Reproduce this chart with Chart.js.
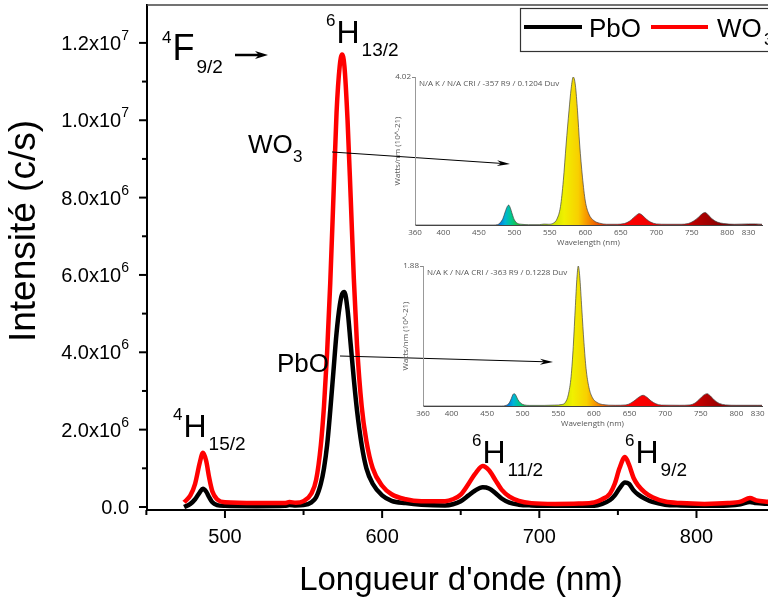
<!DOCTYPE html>
<html>
<head>
<meta charset="utf-8">
<script src="https://cdn.jsdelivr.net/npm/chart.js@4"></script>
<style>
  html, body { margin: 0; padding: 0; background: #fff; }
  #wrap { position: relative; width: 768px; height: 598px; overflow: hidden; }
  #wrap canvas { position: absolute; }
</style>
</head>
<body>
<div id="wrap">
  <canvas id="main" width="768" height="598" style="left:0;top:0"></canvas>
  <canvas id="inset1" width="413" height="195" style="left:355px;top:60px"></canvas>
  <canvas id="inset2" width="413" height="190" style="left:355px;top:250px"></canvas>
</div>
<script>
// emission spectra, intensity in units of 1e6 c/s
const wavelengths = [474, 478, 481, 484, 486, 488, 490, 492, 495, 500,
  520, 538, 541, 545, 550, 555, 558, 561, 563, 565,
  567, 569, 571, 573, 574.5, 576, 578, 580, 582, 584,
  587, 590, 594, 600, 606, 615, 625, 640, 645, 650,
  655, 659, 664, 668, 672, 676, 681, 687, 695, 710,
  725, 735, 740, 745, 748, 751, 754.5, 757, 760, 763,
  767, 772, 780, 790, 805, 820, 828, 834, 838, 846];
const wo3 = [0.12, 0.3, 0.6, 1.15, 1.4, 1.2, 0.75, 0.4, 0.2, 0.12,
  0.1, 0.1, 0.13, 0.11, 0.15, 0.35, 0.7, 1.6, 2.6, 4.0,
  5.8, 8.0, 10.2, 11.4, 11.7, 11.4, 10.0, 8.0, 5.9, 4.2,
  2.6, 1.7, 1.0, 0.55, 0.33, 0.2, 0.15, 0.15, 0.2, 0.32,
  0.6, 0.85, 1.06, 0.95, 0.7, 0.45, 0.27, 0.16, 0.1, 0.08,
  0.09, 0.12, 0.2, 0.35, 0.6, 1.0, 1.29, 1.1, 0.75, 0.55,
  0.38, 0.25, 0.14, 0.1, 0.08, 0.1, 0.14, 0.23, 0.17, 0.13];
const pbo = [0, 0.08, 0.2, 0.38, 0.47, 0.4, 0.25, 0.12, 0.05, 0.03,
  0.02, 0.03, 0.05, 0.04, 0.05, 0.12, 0.25, 0.6, 1.0, 1.6,
  2.5, 3.5, 4.5, 5.2, 5.5, 5.56, 5.1, 4.2, 3.3, 2.5,
  1.6, 1.0, 0.6, 0.3, 0.16, 0.1, 0.06, 0.04, 0.07, 0.15,
  0.3, 0.42, 0.51, 0.48, 0.36, 0.22, 0.11, 0.06, 0.04, 0.03,
  0.03, 0.03, 0.08, 0.18, 0.3, 0.48, 0.63, 0.6, 0.43, 0.32,
  0.22, 0.13, 0.06, 0.04, 0.03, 0.04, 0.07, 0.13, 0.1, 0.08];

// main axis ticks
const xTicks = [500, 600, 700, 800];
const xMinorTicks = [450, 550, 650, 750];
const yTicks = [0, 2e6, 4e6, 6e6, 8e6, 1e7, 1.2e7];
const yMinorTicks = [1e6, 3e6, 5e6, 7e6, 9e6, 1.1e7];
const yTickText = ['0.0', '2.0x10', '4.0x10', '6.0x10', '8.0x10', '1.0x10', '1.2x10'];
const yTickExp = ['', '6', '6', '6', '6', '7', '7'];

// inset spectra (light meter screenshots)
const wo3SpecWl = [360, 470, 476, 480, 484, 487, 490, 492, 494, 497, 500, 504, 510, 520, 535, 542, 548,
  555, 560, 565, 569, 573, 577, 580, 583, 586, 589, 592, 596, 600, 605, 612, 620, 630, 645,
  655, 662, 668, 673, 676, 680, 686, 692, 700, 715, 735, 745, 752, 760, 765, 769, 773, 779,
  786, 795, 810, 830, 840, 849];
const wo3SpecVal = [0, 0, 0.01, 0.06, 0.18, 0.35, 0.5, 0.54, 0.48, 0.3, 0.14, 0.05, 0.02, 0.01, 0.01, 0.025, 0.02,
  0.05, 0.16, 0.5, 1.2, 2.2, 3.1, 3.7, 4.02, 3.8, 3.1, 2.2, 1.3, 0.65, 0.3, 0.12, 0.05, 0.02, 0.02,
  0.04, 0.1, 0.2, 0.28, 0.31, 0.27, 0.16, 0.08, 0.03, 0.02, 0.02, 0.04, 0.1, 0.22, 0.31, 0.34, 0.28, 0.16,
  0.08, 0.04, 0.02, 0.03, 0.03, 0.02];
const pboSpecWl = [360, 470, 477, 481, 484, 486, 488, 490, 493, 497, 502, 510, 530, 545, 555, 560, 564,
  568, 571, 574, 576, 578, 580, 583, 586, 589, 593, 598, 604, 612, 630, 645, 652, 658, 664,
  669, 674, 680, 687, 695, 720, 735, 742, 748, 754, 759, 763, 769, 776, 785, 800, 830, 836];
const pboSpecVal = [0, 0, 0.01, 0.04, 0.1, 0.15, 0.166, 0.15, 0.09, 0.04, 0.015, 0.008, 0.008, 0.012, 0.02, 0.05, 0.15,
  0.4, 0.8, 1.35, 1.7, 1.88, 1.75, 1.3, 0.85, 0.5, 0.25, 0.11, 0.05, 0.02, 0.01, 0.015, 0.04, 0.08, 0.125,
  0.144, 0.12, 0.07, 0.03, 0.012, 0.01, 0.015, 0.04, 0.09, 0.145, 0.166, 0.14, 0.08, 0.035, 0.015, 0.01, 0.01, 0.01];
const insetTicks = [360, 400, 450, 500, 550, 600, 650, 700, 750, 800, 830];

// spectral fill colours
const specStopWl = [470, 480, 487, 495, 505, 530, 550, 570, 590, 600, 615, 630, 650, 700, 740, 760, 800];
const specStopColor = ['#2040c0', '#0080e0', '#00b4d8', '#00c890', '#20c040', '#80d020', '#c0e000', '#f0f000',
  '#f8d000', '#f8a000', '#f06000', '#f02000', '#ff0000', '#f00000', '#d00000', '#b00000', '#800000'];

const FONT = "'Liberation Sans', Arial, sans-serif";
const SMALL = "'Open Sans', 'Noto Sans', sans-serif";

function line(ctx, x1, y1, x2, y2) {
  ctx.beginPath(); ctx.moveTo(x1, y1); ctx.lineTo(x2, y2); ctx.stroke();
}

function arrow(ctx, x1, y1, x2, y2, lw, hl, hw) {
  const a = Math.atan2(y2 - y1, x2 - x1);
  ctx.lineWidth = lw;
  line(ctx, x1, y1, x2 - hl * 0.6 * Math.cos(a), y2 - hl * 0.6 * Math.sin(a));
  ctx.beginPath();
  ctx.moveTo(x2, y2);
  ctx.lineTo(x2 - hl * Math.cos(a) + hw / 2 * Math.sin(a), y2 - hl * Math.sin(a) - hw / 2 * Math.cos(a));
  ctx.lineTo(x2 - hl * 0.7 * Math.cos(a), y2 - hl * 0.7 * Math.sin(a));
  ctx.lineTo(x2 - hl * Math.cos(a) - hw / 2 * Math.sin(a), y2 - hl * Math.sin(a) + hw / 2 * Math.cos(a));
  ctx.closePath();
  ctx.fill();
}

// energy level label: sup, big letter, subscript
function level(ctx, x, y, sup, main, sub, size) {
  ctx.textAlign = 'left';
  ctx.font = '17px ' + FONT;
  ctx.fillText(sup, x, y - 17);
  let cx = x + ctx.measureText(sup).width + 1;
  ctx.font = size + 'px ' + FONT;
  ctx.fillText(main, cx, y);
  cx += ctx.measureText(main).width + 2;
  ctx.font = '19px ' + FONT;
  ctx.fillText(sub, cx, y + 13);
}

const mainDecor = {
  id: 'mainDecor',
  afterDraw(chart) {
    const { ctx, chartArea: a, scales: { x, y } } = chart;
    ctx.save();
    ctx.fillStyle = '#000';
    ctx.strokeStyle = '#000';

    // top frame
    ctx.strokeStyle = '#444';
    ctx.lineWidth = 1.5;
    line(ctx, a.left, a.top, a.right, a.top);

    // ticks
    ctx.strokeStyle = '#000';
    ctx.lineWidth = 2;
    yTicks.forEach(v => { const p = y.getPixelForValue(v); line(ctx, a.left - 8, p, a.left, p); });
    yMinorTicks.forEach(v => { const p = y.getPixelForValue(v); line(ctx, a.left - 5, p, a.left, p); });
    xTicks.forEach(v => { const p = x.getPixelForValue(v); line(ctx, p, a.bottom, p, a.bottom + 8); });
    xMinorTicks.forEach(v => { const p = x.getPixelForValue(v); line(ctx, p, a.bottom, p, a.bottom + 5); });

    // tick labels
    ctx.textBaseline = 'alphabetic';
    ctx.textAlign = 'center';
    ctx.font = '20px ' + FONT;
    xTicks.forEach(v => ctx.fillText(String(v), x.getPixelForValue(v), a.bottom + 33));
    yTicks.forEach((v, i) => {
      const p = y.getPixelForValue(v);
      ctx.textAlign = 'left';
      ctx.font = '14px ' + FONT;
      const ew = ctx.measureText(yTickExp[i]).width;
      ctx.font = '20px ' + FONT;
      const mw = ctx.measureText(yTickText[i]).width;
      const x0 = 129 - ew - mw;
      ctx.fillText(yTickText[i], x0, p + 7);
      ctx.font = '14px ' + FONT;
      ctx.fillText(yTickExp[i], x0 + mw, p - 3);
    });

    // axis titles
    ctx.textAlign = 'center';
    ctx.font = '33px ' + FONT;
    ctx.fillText("Longueur d'onde (nm)", 461, 590);
    ctx.save();
    ctx.translate(35, 231);
    ctx.rotate(-Math.PI / 2);
    ctx.font = '37px ' + FONT;
    ctx.fillText('Intensité (c/s)', 0, 0);
    ctx.restore();

    // legend
    ctx.strokeStyle = '#333';
    ctx.lineWidth = 1.2;
    ctx.strokeRect(520.5, 8.5, 300, 43);
    ctx.lineWidth = 4;
    ctx.strokeStyle = '#000';
    line(ctx, 524, 27, 582, 27);
    ctx.strokeStyle = '#ff0000';
    line(ctx, 651, 27, 708, 27);
    ctx.textAlign = 'left';
    ctx.font = '26px ' + FONT;
    ctx.fillText(chart.data.datasets[0].label, 589, 37);
    ctx.fillText('WO', 717, 37);
    ctx.font = '17px ' + FONT;
    ctx.fillText('3', 764, 45);

    // transitions
    level(ctx, 162, 60, '4', 'F', '9/2', 36);
    level(ctx, 326, 43, '6', 'H', '13/2', 32);
    level(ctx, 173, 437, '4', 'H', '15/2', 32);
    level(ctx, 472, 463, '6', 'H', '11/2', 32);
    level(ctx, 625, 463, '6', 'H', '9/2', 32);
    ctx.strokeStyle = '#000';
    ctx.fillStyle = '#000';
    arrow(ctx, 235, 55, 268, 55, 2.5, 13, 8);

    // sample labels pointing at the insets
    ctx.font = '26px ' + FONT;
    ctx.fillText('WO', 248, 153);
    ctx.font = '17px ' + FONT;
    ctx.fillText('3', 293, 162);
    ctx.font = '26px ' + FONT;
    ctx.fillText('PbO', 277, 372);
    arrow(ctx, 332, 152, 510, 164, 1, 13, 6);
    arrow(ctx, 340, 356, 553, 362, 1, 13, 6);
    ctx.restore();
  }
};

new Chart(document.getElementById('main'), {
  type: 'line',
  data: {
    datasets: [
      {
        label: 'PbO',
        data: wavelengths.map((w, i) => ({ x: w, y: pbo[i] * 1e6 })),
        borderColor: '#000000',
        borderWidth: 4.5,
        pointRadius: 0,
        cubicInterpolationMode: 'monotone',
        order: 1
      },
      {
        label: 'WO3',
        data: wavelengths.map((w, i) => ({ x: w, y: wo3[i] * 1e6 })),
        borderColor: '#ff0000',
        borderWidth: 4.5,
        pointRadius: 0,
        cubicInterpolationMode: 'monotone',
        order: 0
      }
    ]
  },
  options: {
    responsive: false,
    animation: false,
    events: [],
    layout: { padding: { left: 147, top: 5, right: 0, bottom: 88 } },
    plugins: { legend: { display: false }, tooltip: { enabled: false } },
    scales: {
      x: {
        type: 'linear', min: 450.4, max: 845.5,
        grid: { display: false, drawTicks: false },
        ticks: { display: false },
        border: { color: '#000', width: 2 }
      },
      y: {
        type: 'linear', min: -78000, max: 1.298e7,
        grid: { display: false, drawTicks: false },
        ticks: { display: false },
        border: { color: '#000', width: 2 }
      }
    }
  },
  plugins: [mainDecor]
});

// ---- insets ----
function spectrumFill(context) {
  const chart = context.chart;
  const { ctx, chartArea, scales } = chart;
  if (!chartArea) return null;
  const x0 = scales.x.getPixelForValue(scales.x.min);
  const x1 = scales.x.getPixelForValue(scales.x.max);
  const g = ctx.createLinearGradient(x0, 0, x1, 0);
  const span = scales.x.max - scales.x.min;
  specStopWl.forEach((w, i) => g.addColorStop((w - scales.x.min) / span, specStopColor[i]));
  return g;
}

function insetDecor(topLabel, info) {
  return {
    id: 'insetDecor',
    afterDraw(chart) {
      const { ctx, chartArea: a, scales: { x } } = chart;
      ctx.save();
      ctx.fillStyle = '#555';
      ctx.font = '8px ' + SMALL;
      ctx.textBaseline = 'middle';
      ctx.textAlign = 'center';
      insetTicks.forEach(v => ctx.fillText(String(v), x.getPixelForValue(v), a.bottom + 8));
      ctx.fillText('Wavelength (nm)', (a.left + a.right) / 2, a.bottom + 18);
      ctx.textAlign = 'right';
      ctx.fillText(topLabel, a.left - 4, a.top);
      ctx.strokeStyle = '#888';
      ctx.lineWidth = 1;
      line(ctx, a.left - 3, a.top + 0.5, a.left, a.top + 0.5);
      ctx.textAlign = 'left';
      ctx.fillText(info, a.left + 4, a.top + 7);
      ctx.translate(a.left - 17, (a.top + a.bottom) / 2);
      ctx.rotate(-Math.PI / 2);
      ctx.textAlign = 'center';
      ctx.fillText('Watts/nm (10^-21)', 0, 0);
      ctx.restore();
    }
  };
}

function makeInset(id, wl, val, xmax, ymax, pad, topLabel, info) {
  new Chart(document.getElementById(id), {
    type: 'line',
    data: {
      datasets: [{
        data: wl.map((w, i) => ({ x: w, y: val[i] })),
        borderColor: '#444',
        borderWidth: 0.7,
        backgroundColor: spectrumFill,
        fill: 'origin',
        pointRadius: 0,
        cubicInterpolationMode: 'monotone'
      }]
    },
    options: {
      responsive: false,
      animation: false,
      events: [],
      layout: { padding: pad },
      plugins: { legend: { display: false }, tooltip: { enabled: false } },
      scales: {
        x: {
          type: 'linear', min: 360, max: xmax,
          grid: { display: false, drawTicks: false },
          ticks: { display: false },
          border: { color: '#444', width: 1 }
        },
        y: {
          type: 'linear', min: 0, max: ymax,
          grid: { display: false, drawTicks: false },
          ticks: { display: false },
          border: { color: '#999', width: 1 }
        }
      }
    },
    plugins: [insetDecor(topLabel, info)]
  });
}

makeInset('inset1', wo3SpecWl, wo3SpecVal, 849, 4.02,
  { left: 60, top: 17, right: 6, bottom: 30 }, '4.02', 'N/A K / N/A CRI / -357 R9 / 0.1204 Duv');
makeInset('inset2', pboSpecWl, pboSpecVal, 836, 1.88,
  { left: 68, top: 16, right: 6, bottom: 34 }, '1.88', 'N/A K / N/A CRI / -363 R9 / 0.1228 Duv');
</script>
</body>
</html>
